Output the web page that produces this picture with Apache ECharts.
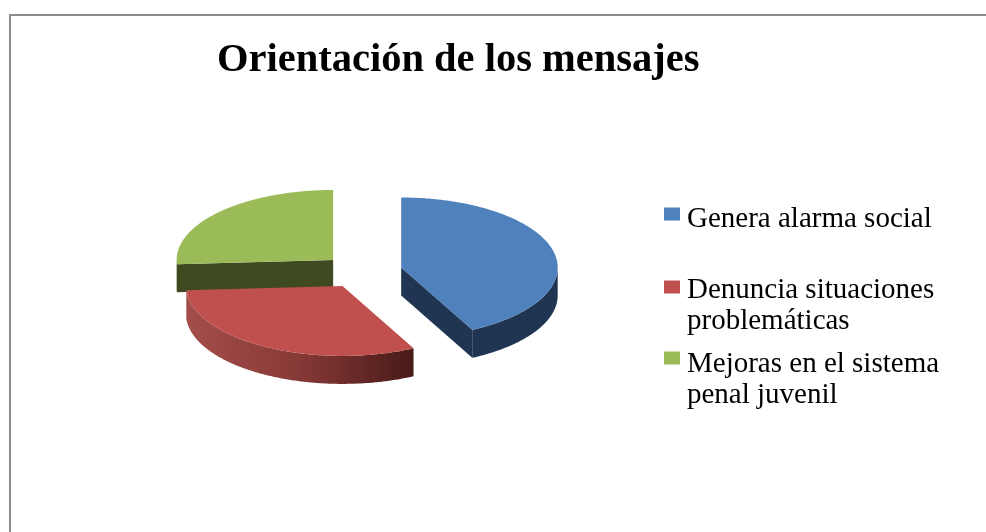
<!DOCTYPE html>
<html>
<head>
<meta charset="utf-8">
<style>html,body{margin:0;padding:0;background:#fff}#c{width:986px;height:532px}</style>
<script src="https://cdn.jsdelivr.net/npm/echarts@6/dist/echarts.min.js"></script>
</head>
<body>
<div id="c"></div>
<script>
var titleText = 'Orientación de los mensajes';
var categories = ['Genera alarma social', 'Denuncia situaciones\nproblemáticas', 'Mejoras en el sistema\npenal juvenil'];
var values = [42.5, 31.5, 26];

var topColors = ['#4f81bd', '#c0504d', '#9bbb59'];
var wallColors = ['#1f3552', null, '#3f4a21'];
var redWall = {type: 'linear', x: 0, y: 0, x2: 1, y2: 0, colorStops: [
  {offset: 0, color: '#a54e4b'}, {offset: 0.5, color: '#863936'}, {offset: 1, color: '#481a18'}]};
var drawOrder = [2, 1, 0];

var pie = {cx: 362.3, cy: 271.4, rx: 156.5, ry: 70, depth: 28, explodeX: 40, explodeY: 16.7};
var legendTops = [204, 275, 349];
var legendIconBoxes = [24, 51, 57];
var total = values.reduce(function (a, b) { return a + b; }, 0);

function startAngle(i) {
  var s = 0;
  for (var k = 0; k < i; k++) s += values[k];
  return s / total * Math.PI * 2;
}
function arc(c, t0, t1, dy) {
  var pts = [], n = Math.max(2, Math.ceil((t1 - t0) / 0.01));
  for (var k = 0; k <= n; k++) {
    var t = t0 + (t1 - t0) * k / n;
    pts.push([c[0] + pie.rx * Math.sin(t), c[1] - pie.ry * Math.cos(t) + dy]);
  }
  return pts;
}
function wall(a, b) {
  return [a, b, [b[0], b[1] + pie.depth], [a[0], a[1] + pie.depth]];
}
function sliceItem(i) {
  return function (params, api) {
    var v = api.value(0);
    var t0 = startAngle(i), t1 = t0 + v / total * Math.PI * 2, mid = (t0 + t1) / 2;
    var c = [pie.cx + pie.explodeX * Math.sin(mid), pie.cy - pie.explodeY * Math.cos(mid)];
    var children = [];
    var fill = wallColors[i] || redWall;
    function poly(pts, color) {
      children.push({type: 'polygon', shape: {points: pts}, style: {fill: color}});
    }
    // cut faces turned towards the viewer
    if (Math.sin(t0) < -1e-6) poly(wall(c, arc(c, t0, t0, 0)[0]), fill);
    if (Math.sin(t1) > 1e-6) poly(wall(c, arc(c, t1, t1, 0)[0]), fill);
    // front of the rim
    var a = Math.max(t0, Math.PI / 2), b = Math.min(t1, Math.PI * 1.5);
    if (b > a) {
      poly(arc(c, a, b, 0).concat(arc(c, a, b, pie.depth).reverse()), fill);
    }
    // top face
    poly([c].concat(arc(c, t0, t1, 0)), topColors[i]);
    return {type: 'group', children: children};
  };
}

var series = drawOrder.map(function (i) {
  return {
    type: 'custom',
    name: categories[i],
    coordinateSystem: 'none',
    silent: true,
    animation: false,
    itemStyle: {color: topColors[i]},
    renderItem: sliceItem(i),
    data: [[values[i]]]
  };
});

// The swatch is aligned with the first text line: the icon box is taller than
// the visible square, which sits at the top of that box.
var legends = categories.map(function (name, i) {
  var box = legendIconBoxes[i];
  return {
    data: [{
      name: name,
      icon: 'path://M0 0H16V13H0ZM0 ' + box + 'L0 ' + box + 'Z',
      itemStyle: {color: topColors[i]}
    }],
    left: 664,
    top: legendTops[i],
    padding: 0,
    orient: 'vertical',
    itemWidth: 16,
    itemHeight: box,
    itemGap: 0,
    selectedMode: false,
    textStyle: {
      fontFamily: 'Liberation Serif',
      fontSize: 29,
      lineHeight: 31,
      color: '#000',
      padding: [0, 0, 0, 2]
    }
  };
});

var chart = echarts.init(document.getElementById('c'), null, {renderer: 'canvas'});
chart.setOption({
  animation: false,
  backgroundColor: '#fff',
  title: {
    text: titleText,
    left: 217,
    top: 40,
    padding: 0,
    textStyle: {fontFamily: 'Liberation Serif', fontWeight: 'bold', fontSize: 40.5, color: '#000'}
  },
  legend: legends,
  graphic: [{
    type: 'polyline',
    silent: true,
    shape: {points: [[10, 532], [10, 15], [986, 15]]},
    style: {stroke: '#8c8c8c', lineWidth: 2, fill: null}
  }],
  series: series
});
</script>
</body>
</html>
